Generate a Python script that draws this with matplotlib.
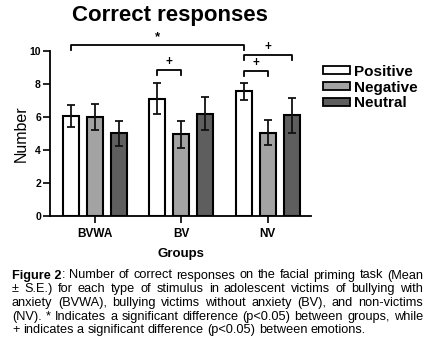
import matplotlib.pyplot as plt
from matplotlib.patches import Patch
import numpy as np

plt.rcParams['font.family'] = ['Liberation Sans', 'DejaVu Sans']

# data
groups = ['BVWA', 'BV', 'NV']
emotions = ['Positive', 'Negative', 'Neutral']
means = {
    'Positive': [6.05, 7.1, 7.55],
    'Negative': [6.0, 4.95, 5.05],
    'Neutral': [5.0, 6.2, 6.1],
}
errors = {
    'Positive': [0.65, 0.95, 0.5],
    'Negative': [0.8, 0.8, 0.75],
    'Neutral': [0.75, 1.0, 1.05],
}
colors = {'Positive': 'white', 'Negative': '#a3a3a3', 'Neutral': '#5e5e5e'}
yticks = [0, 2, 4, 6, 8, 10]

# brackets: (group a, emotion a, group b, emotion b, height, label)
brackets = [
    (0, 0, 2, 0, 10.35, '*'),
    (1, 0, 1, 1, 8.85, '+'),
    (2, 0, 2, 1, 8.8, '+'),
    (2, 0, 2, 2, 9.75, '+'),
]

caption = [
    [[('Figure 2', 'bold'), (':', 'normal')], 'Number of correct responses on the facial priming task (Mean'],
    [[], '± S.E.) for each type of stimulus in adolescent victims of bullying with'],
    [[], 'anxiety (BVWA), bullying victims without anxiety (BV), and non-victims'],
    [[], '(NV). * Indicates a significant difference (p<0.05) between groups, while'],
    [[], '+ indicates a significant difference (p<0.05) between emotions.'],
]

fig = plt.figure(figsize=(4.35, 3.44), dpi=100)
ax = fig.add_axes([0.115, 0.372, 0.6, 0.48])

x = np.arange(len(groups))
offs = [-0.277, 0.0, 0.277]
width = 0.185
for i, em in enumerate(emotions):
    ax.bar(x + offs[i], means[em], width, color=colors[em], edgecolor='black',
           linewidth=1.5, zorder=2)
    ax.errorbar(x + offs[i], means[em], yerr=errors[em], fmt='none', ecolor='#111111',
                elinewidth=1.3, capsize=3, capthick=1.3, zorder=3)

ax.set_xlim(-0.52, 2.5)
ax.set_ylim(0, 10)
ax.set_yticks(yticks)
ax.set_yticklabels([str(t) for t in yticks], fontsize=7.5, fontweight='bold')
ax.set_xticks(x)
ax.set_xticklabels(groups, fontsize=8.5, fontweight='bold')
ax.tick_params(axis='both', direction='out', length=5, width=1.2)
ax.tick_params(axis='y', pad=1.5)
ax.spines['top'].set_visible(False)
ax.spines['right'].set_visible(False)
ax.spines['left'].set_linewidth(1.3)
ax.spines['bottom'].set_linewidth(1.3)
ax.set_ylabel('Number', fontsize=11.5, labelpad=0.5)
ax.set_xlabel('Groups', fontsize=9.5, fontweight='bold', labelpad=6)

for ga, ea, gb, eb, h, lab in brackets:
    xa = x[ga] + offs[ea]
    xb = x[gb] + offs[eb]
    ax.plot([xa, xa, xb, xb], [h - 0.3, h, h, h - 0.3], color='black', lw=1.3,
            clip_on=False)
    ax.text((xa + xb) / 2, h + 0.1, lab, ha='center', va='bottom',
            fontsize=9.5 if lab == '*' else 8.5, fontweight='bold', clip_on=False)

handles = [Patch(facecolor=colors[em], edgecolor='black', linewidth=1.3) for em in emotions]
leg = fig.legend(handles, emotions, loc='upper left', bbox_to_anchor=(0.7425, 0.812),
                 frameon=False, handlelength=1.75, handleheight=0.45, handletextpad=0.3,
                 labelspacing=0.12, borderpad=0, borderaxespad=0,
                 prop={'size': 11, 'weight': 'bold'})

fig.text(0.39, 0.985, 'Correct responses', ha='center', va='top', fontsize=16,
         fontweight='bold')

# justified caption
fig.canvas.draw()
r = fig.canvas.get_renderer()
left, right = 12, 423
H = 344
fs = 9.2
def wwidth(s, weight):
    t = fig.text(0, 0, s, fontsize=fs, fontweight=weight)
    w = t.get_window_extent(renderer=r).width
    t.remove()
    return w

space = wwidth('a b', 'normal') - wwidth('ab', 'normal')
for k, (prefix, body) in enumerate(caption):
    base = 278.5 + k * 13.7
    body_words = body.split(' ')
    if prefix:
        words = [prefix[0], (prefix[1][0], 'normal')] + [(w, 'normal') for w in body_words]
    else:
        words = [(w, 'normal') for w in body_words]
    ws = [wwidth(w, wt) for w, wt in words]
    gaps = len(words) - 1 - (1 if prefix else 0)
    last = k == len(caption) - 1
    gap = space if last else (right - left - sum(ws)) / gaps
    xpos = left
    for j, (w, wt) in enumerate(words):
        fig.text(xpos / 435, 1 - base / H, w, fontsize=fs, fontweight=wt,
                 ha='left', va='baseline')
        xpos += ws[j]
        if not (prefix and j == 0):
            xpos += gap

fig.savefig('out.png', dpi=100)
